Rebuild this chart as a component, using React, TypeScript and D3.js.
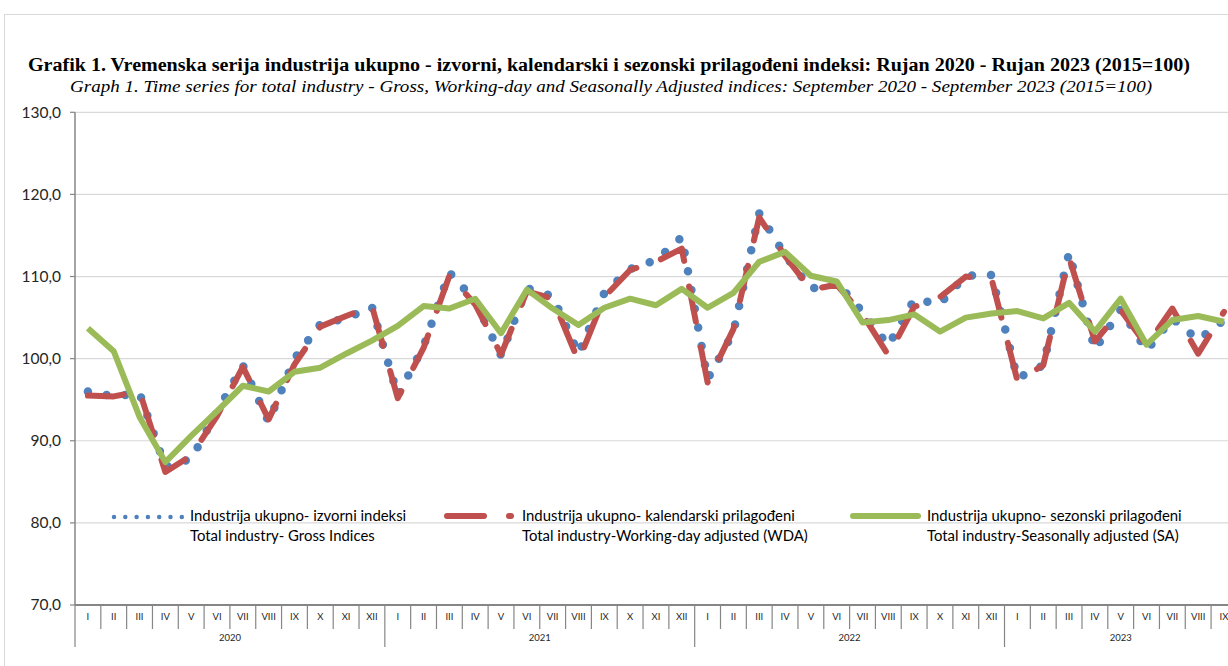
import * as d3 from 'd3'

// months along the axis (Jan 2020 .. Sep 2023 categories)
const monthNames = ['I', 'II', 'III', 'IV', 'V', 'VI', 'VII', 'VIII', 'IX', 'X', 'XI', 'XII']
const years = ['2020', '2021', '2022', '2023']
const monthsPerYear = [12, 12, 12, 9]

// Gross indices (izvorni)
const gross = [
  96.0, 95.4, 95.8, 86.8, 87.8, 93.5, 99.2, 92.3, 100.0, 104.2, 104.9, 106.3,
  95.5, 101.5, 110.5, 107.0, 100.4, 108.6, 107.6, 100.6, 108.0, 110.9, 112.0, 114.8,
  97.5, 103.2, 117.7, 112.6, 108.5, 109.3, 105.7, 101.6, 107.2, 106.7, 110.1, 110.2,
  97.6, 99.2, 112.9, 101.1, 106.0, 101.0, 104.9, 102.3, 104.7,
]

// Working-day adjusted (kalendarski)
const wda = [
  95.5, 95.4, 96.0, 86.2, 88.2, 93.0, 99.0, 92.6, 99.3, 103.9, 105.2, 106.4,
  95.2, 101.3, 110.1, 106.6, 100.5, 108.2, 107.3, 99.7, 107.5, 110.8, 111.8, 113.4,
  97.1, 103.6, 117.2, 112.5, 108.4, 109.0, 105.4, 100.4, 106.3, 107.5, 110.0, 109.7,
  97.3, 99.2, 112.3, 102.1, 105.9, 101.6, 106.1, 100.6, 105.7,
]

// Seasonally adjusted (sezonski)
const sa = [
  103.7, 100.9, 92.9, 87.4, 90.6, 93.6, 96.7, 96.0, 98.4, 98.9, 100.6, 102.2,
  104.0, 106.4, 106.1, 107.3, 103.1, 108.4, 106.1, 104.1, 106.2, 107.3, 106.5, 108.5,
  106.2, 108.0, 111.8, 113.0, 110.1, 109.4, 104.4, 104.7, 105.4, 103.3, 105.0, 105.5,
  105.8, 104.9, 106.8, 103.3, 107.3, 101.7, 104.7, 105.2, 104.5,
]

const yTicks = [70, 80, 90, 100, 110, 120, 130]

const title = 'Grafik 1. Vremenska serija industrija ukupno - izvorni, kalendarski i sezonski prilagođeni indeksi: Rujan 2020 - Rujan 2023 (2015=100)'
const subtitle = 'Graph 1. Time series for total industry - Gross, Working-day and Seasonally Adjusted indices: September 2020 - September 2023 (2015=100)'

const legendTop = ['Industrija ukupno- izvorni indeksi', 'Industrija ukupno- kalendarski prilagođeni', 'Industrija ukupno- sezonski prilagođeni']
const legendBottom = ['Total industry- Gross Indices', 'Total industry-Working-day adjusted (WDA)', 'Total industry-Seasonally adjusted (SA)']

const BLUE = '#4F81BD'
const RED = '#C0504D'
const GREEN = '#9BBB59'
const FONT = 'Lato, "Open Sans", sans-serif'

export default function App() {
  const width = 1228
  const height = 666
  const left = 75
  const top = 112.3
  const bottom = 605
  const step = 25.82

  const labels: string[] = []
  monthsPerYear.forEach(n => monthNames.slice(0, n).forEach(m => labels.push(m)))

  const x = d3.scaleBand<number>()
    .domain(d3.range(labels.length))
    .range([left, left + step * labels.length])
    .padding(0)
  const bw = x.bandwidth()
  const cx = (i: number) => (x(i) ?? 0) + bw / 2

  const y = d3.scaleLinear().domain([70, 130]).range([bottom, top])
  const fmt = (v: number) => d3.format('.1f')(v).replace('.', ',')

  const line = d3.line<number>()
    .x((_, i) => cx(i))
    .y(d => y(d))

  // year boundaries
  const yearStarts: number[] = []
  let acc = 0
  monthsPerYear.forEach(n => { yearStarts.push(acc); acc += n })

  return (
    <div style={{ position: 'absolute', left: 0, top: 0 }}>
      <svg width={width} height={height} style={{ display: 'block', background: '#fff' }}>
        <rect x={4.5} y={14.5} width={width + 20} height={height + 20} fill="#fff" stroke="#D9D9D9" />

        <text x={609} y={71} textAnchor="middle" fontFamily='"Liberation Serif", serif' fontWeight="bold"
          fontSize={18.5} textLength={1162} lengthAdjust="spacingAndGlyphs" fill="#000">{title}</text>
        <text x={611} y={92} textAnchor="middle" fontFamily='"Liberation Serif", serif' fontStyle="italic"
          fontSize={17.5} textLength={1082} lengthAdjust="spacingAndGlyphs" fill="#000">{subtitle}</text>

        {/* gridlines */}
        {yTicks.filter(t => t > 70).map(t => (
          <line key={t} x1={left} x2={width + 20} y1={y(t)} y2={y(t)} stroke="#D9D9D9" strokeWidth={1.2} />
        ))}

        {/* y axis */}
        <line x1={left} x2={left} y1={top} y2={bottom} stroke="#868686" strokeWidth={1.5} />
        {yTicks.map(t => (
          <g key={t}>
            <line x1={left - 5} x2={left} y1={y(t)} y2={y(t)} stroke="#868686" strokeWidth={1.2} />
            <text x={left - 14} y={y(t)} dy="0.35em" textAnchor="end" fontFamily={FONT} fontSize={15.5} fill="#262626">{fmt(t)}</text>
          </g>
        ))}

        {/* x axis */}
        <line x1={left} x2={width + 20} y1={bottom} y2={bottom} stroke="#868686" strokeWidth={2} />
        {labels.map((m, i) => (
          <g key={i}>
            <line x1={x(i)} x2={x(i)} y1={bottom} y2={yearStarts.includes(i) ? 647 : 629}
              stroke="#868686" strokeWidth={1.2} />
            <text x={cx(i)} y={620} textAnchor="middle" fontFamily={FONT} fontSize={9.5} fill="#262626">{m}</text>
          </g>
        ))}
        <line x1={left + step * labels.length} x2={left + step * labels.length} y1={bottom} y2={629} stroke="#868686" strokeWidth={1.2} />
        {years.map((yr, k) => (
          <text key={yr} x={(x(yearStarts[k]) ?? 0) + (monthsPerYear[k] * bw) / 2} y={641} textAnchor="middle"
            fontFamily={FONT} fontSize={9.5} fill="#262626">{yr}</text>
        ))}

        {/* series */}
        <path d={line(gross) ?? ''} fill="none" stroke={BLUE} strokeWidth={8.5} strokeLinecap="round"
          strokeDasharray="0 19" />
        <path d={line(wda) ?? ''} fill="none" stroke={RED} strokeWidth={6} strokeLinecap="round"
          strokeLinejoin="round" strokeDasharray="36 26" />
        <path d={line(sa) ?? ''} fill="none" stroke={GREEN} strokeWidth={6} strokeLinejoin="round" />

        {/* legend */}
        <g fontFamily={FONT} fontSize={14.9} fill="#000">
          <line x1={114} x2={182} y1={517} y2={517} stroke={BLUE} strokeWidth={4.5} strokeLinecap="round" strokeDasharray="0 11.3" />
          <line x1={447} x2={484} y1={516} y2={516} stroke={RED} strokeWidth={6} strokeLinecap="round" />
          <line x1={509} x2={511} y1={516} y2={516} stroke={RED} strokeWidth={6} strokeLinecap="round" />
          <line x1={853} x2={918} y1={516} y2={516} stroke={GREEN} strokeWidth={6} strokeLinecap="round" />
          {[190, 522, 927].map((lx, k) => (
            <g key={k}>
              <text x={lx} y={521}>{legendTop[k]}</text>
              <text x={lx} y={541}>{legendBottom[k]}</text>
            </g>
          ))}
        </g>
      </svg>
    </div>
  )
}
